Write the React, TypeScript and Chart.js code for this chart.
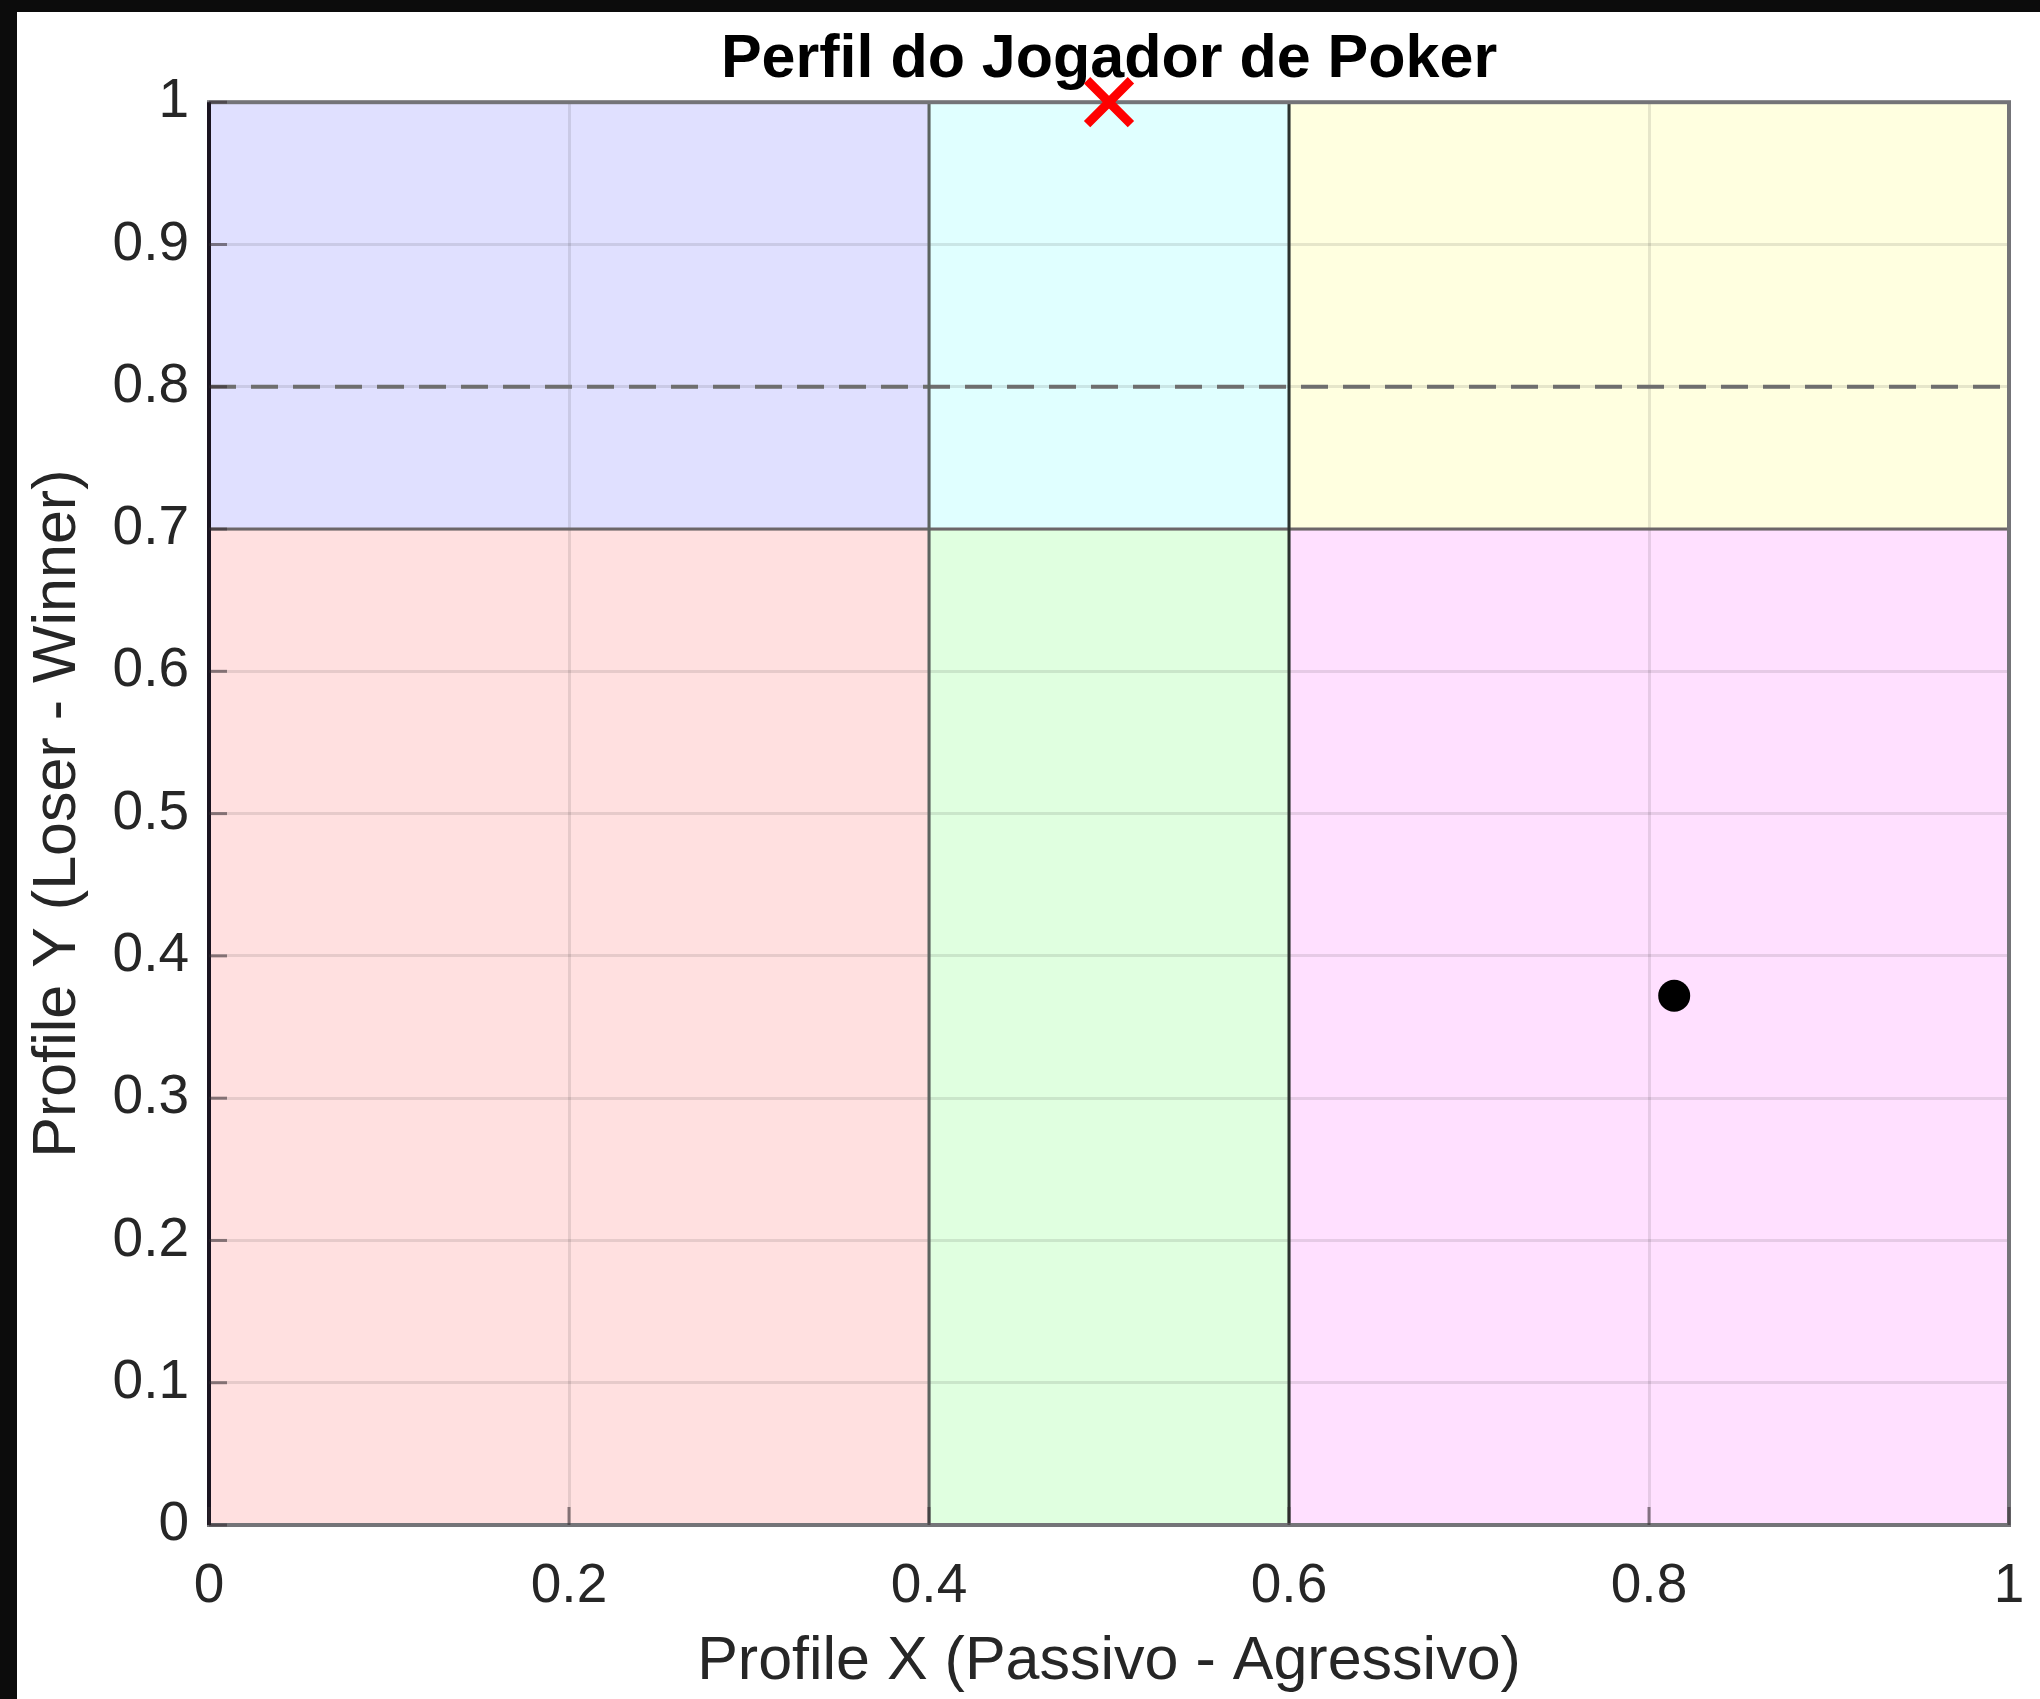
import React, { useEffect, useRef } from 'react';
import { Chart, registerables } from 'chart.js';

Chart.register(...registerables);

// ---------- data ----------
const X_TICKS = [0, 0.2, 0.4, 0.6, 0.8, 1];
const Y_TICKS = [0, 0.1, 0.2, 0.3, 0.4, 0.5, 0.6, 0.7, 0.8, 0.9, 1];

// six profile regions (top row: y 0.7..1, bottom row: y 0..0.7)
const REGION_X_START = [0, 0.4, 0.6, 0, 0.4, 0.6];
const REGION_X_END = [0.4, 0.6, 1, 0.4, 0.6, 1];
const REGION_Y_START = [0.7, 0.7, 0.7, 0, 0, 0];
const REGION_Y_END = [1, 1, 1, 0.7, 0.7, 0.7];

const DIVIDER_X = [0.4, 0.6];
const DIVIDER_Y = [0.7];
const THRESHOLD_Y = [0.8];

const PLAYER_X = [0.814];
const PLAYER_Y = [0.372];
const TARGET_X = [0.5];
const TARGET_Y = [1.0];

const TITLE = 'Perfil do Jogador de Poker';
const X_LABEL = 'Profile X (Passivo - Agressivo)';
const Y_LABEL = 'Profile Y (Loser - Winner)';

// ---------- styles ----------
const REGION_COLORS = ['#e0e0ff', '#e0ffff', '#ffffe0', '#ffe0e0', '#e0ffe0', '#ffe0ff'];
const DIVIDER_X_COLORS = ['#5c6460', '#2c322e'];
const FONT = '"Liberation Sans", Arial, Helvetica, sans-serif';

const overlayPlugin = {
  id: 'profileOverlay',
  beforeDraw(chart: any) {
    const { ctx } = chart;
    const x = chart.scales.x;
    const y = chart.scales.y;
    ctx.save();
    for (let i = 0; i < REGION_X_START.length; i++) {
      const l = x.getPixelForValue(REGION_X_START[i]);
      const r = x.getPixelForValue(REGION_X_END[i]);
      const t = y.getPixelForValue(REGION_Y_END[i]);
      const b = y.getPixelForValue(REGION_Y_START[i]);
      ctx.fillStyle = REGION_COLORS[i];
      ctx.fillRect(l, t, r - l, b - t);
    }
    ctx.restore();
  },
  beforeDatasetsDraw(chart: any) {
    const { ctx } = chart;
    const x = chart.scales.x;
    const y = chart.scales.y;
    const left = x.getPixelForValue(0);
    const right = x.getPixelForValue(1);
    const top = y.getPixelForValue(1);
    const bottom = y.getPixelForValue(0);
    ctx.save();
    ctx.lineCap = 'butt';

    // dashed threshold
    ctx.setLineDash([27, 15]);
    ctx.strokeStyle = '#6e6e6e';
    ctx.lineWidth = 4;
    THRESHOLD_Y.forEach((v) => {
      const py = y.getPixelForValue(v);
      ctx.beginPath();
      ctx.moveTo(left, py);
      ctx.lineTo(right, py);
      ctx.stroke();
    });
    ctx.setLineDash([]);

    // horizontal divider
    ctx.lineWidth = 3;
    ctx.strokeStyle = '#6c6668';
    DIVIDER_Y.forEach((v) => {
      const py = y.getPixelForValue(v);
      ctx.beginPath();
      ctx.moveTo(left, py);
      ctx.lineTo(right, py);
      ctx.stroke();
    });

    // vertical dividers
    DIVIDER_X.forEach((v, i) => {
      const px = x.getPixelForValue(v);
      ctx.strokeStyle = DIVIDER_X_COLORS[i];
      ctx.beginPath();
      ctx.moveTo(px, top);
      ctx.lineTo(px, bottom);
      ctx.stroke();
    });

    // axes box
    ctx.strokeStyle = '#747478';
    ctx.lineWidth = 4;
    ctx.strokeRect(left, top, right - left, bottom - top);
    ctx.strokeStyle = '#1a1420';
    ctx.beginPath();
    ctx.moveTo(left, top);
    ctx.lineTo(left, bottom);
    ctx.stroke();

    // inward tick marks
    ctx.strokeStyle = 'rgba(50,40,45,0.55)';
    ctx.lineWidth = 3;
    X_TICKS.forEach((v) => {
      const px = x.getPixelForValue(v);
      ctx.beginPath();
      ctx.moveTo(px, bottom);
      ctx.lineTo(px, bottom - 18);
      ctx.stroke();
    });
    Y_TICKS.forEach((v) => {
      const py = y.getPixelForValue(v);
      ctx.beginPath();
      ctx.moveTo(left, py);
      ctx.lineTo(left + 18, py);
      ctx.stroke();
    });
    ctx.restore();
  },
};

const fmt = (v: any) => String(Number(Number(v).toFixed(1)));

export default function App() {
  const canvasRef = useRef<HTMLCanvasElement | null>(null);

  useEffect(() => {
    if (!canvasRef.current) return;
    const chart = new Chart(canvasRef.current, {
      type: 'scatter',
      data: {
        datasets: [
          {
            label: 'Jogador',
            data: PLAYER_X.map((v, i) => ({ x: v, y: PLAYER_Y[i] })),
            pointStyle: 'circle',
            pointRadius: 16,
            backgroundColor: '#000000',
            borderColor: '#000000',
            borderWidth: 0,
            clip: false,
          },
          {
            label: 'Alvo',
            data: TARGET_X.map((v, i) => ({ x: v, y: TARGET_Y[i] })),
            pointStyle: 'crossRot',
            pointRadius: 31,
            backgroundColor: '#ff0000',
            borderColor: '#ff0000',
            borderWidth: 9,
            clip: false,
          },
        ],
      },
      options: {
        responsive: false,
        animation: false,
        events: [],
        devicePixelRatio: 1,
        layout: { padding: { left: 0, right: 60, top: 0, bottom: 0 } },
        plugins: {
          legend: { display: false },
          tooltip: { enabled: false },
          title: {
            display: true,
            fullSize: false,
            text: TITLE,
            color: '#000000',
            font: { family: FONT, size: 61, weight: 'bold', lineHeight: 1.2 },
            padding: { top: 12, bottom: 5 },
          },
        },
        scales: {
          x: {
            type: 'linear',
            min: 0,
            max: 1,
            afterBuildTicks: (s: any) => {
              s.ticks = X_TICKS.map((v) => ({ value: v }));
            },
            afterFit: (s: any) => {
              s.height = 174;
              s.paddingLeft = 0;
              s.paddingRight = 0;
            },
            border: { display: false },
            grid: { color: 'rgba(30,30,30,0.11)', lineWidth: 3, drawTicks: false },
            ticks: {
              color: '#262626',
              padding: 29,
              maxRotation: 0,
              font: { family: FONT, size: 55, lineHeight: 1.2 },
              callback: fmt,
            },
            title: {
              display: true,
              text: X_LABEL,
              color: '#262626',
              font: { family: FONT, size: 61, lineHeight: 1.2 },
              padding: { top: 0, bottom: 0 },
            },
          },
          y: {
            type: 'linear',
            min: 0,
            max: 1,
            afterBuildTicks: (s: any) => {
              s.ticks = Y_TICKS.map((v) => ({ value: v }));
            },
            afterFit: (s: any) => {
              s.width = 192;
              s.paddingTop = 0;
              s.paddingBottom = 0;
            },
            border: { display: false },
            grid: { color: 'rgba(30,30,30,0.11)', lineWidth: 3, drawTicks: false },
            ticks: {
              color: '#262626',
              padding: 20,
              font: { family: FONT, size: 55, lineHeight: 1.2 },
              callback: fmt,
            },
            title: {
              display: true,
              text: Y_LABEL,
              color: '#262626',
              font: { family: FONT, size: 61, lineHeight: 1.2 },
              padding: { top: 5, bottom: 0 },
            },
          },
        },
      },
      plugins: [overlayPlugin],
    } as any);
    return () => chart.destroy();
  }, []);

  return (
    <div
      style={{
        position: 'absolute',
        left: 0,
        top: 0,
        width: 2040,
        height: 1699,
        background: '#0c0c0c',
        overflow: 'hidden',
      }}
    >
      <div
        style={{
          position: 'absolute',
          left: 17,
          top: 12,
          width: 2052,
          height: 1687,
          background: '#ffffff',
        }}
      >
        <canvas ref={canvasRef} width={2052} height={1687} style={{ display: 'block' }} />
      </div>
    </div>
  );
}
